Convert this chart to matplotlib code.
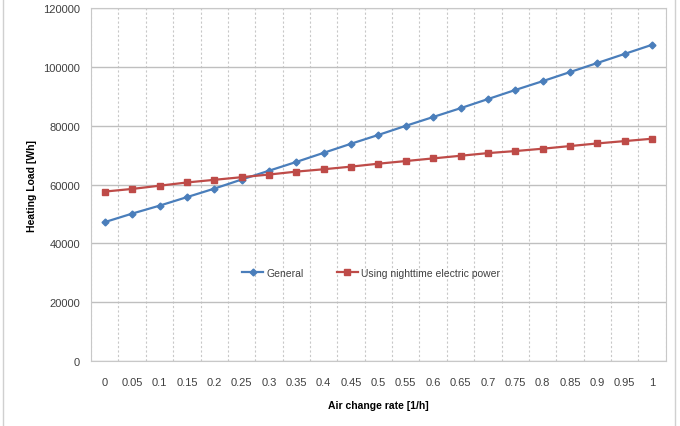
import numpy as np
import matplotlib.pyplot as plt
from matplotlib.patches import Rectangle

# Datos
rates = ["0", "0.05", "0.1", "0.15", "0.2", "0.25", "0.3", "0.35", "0.4", "0.45", "0.5",
         "0.55", "0.6", "0.65", "0.7", "0.75", "0.8", "0.85", "0.9", "0.95", "1"]
general = [47200, 50100, 52800, 55700, 58600, 61700, 64700, 67700, 70800, 73900, 76900,
           80000, 83000, 86000, 89100, 92200, 95200, 98300, 101400, 104500, 107600]
nighttime = [57600, 58500, 59600, 60700, 61600, 62500, 63400, 64400, 65200, 66100, 67100,
             68000, 68900, 69800, 70700, 71400, 72200, 73100, 74000, 74800, 75600]
y_ticks = [0, 20000, 40000, 60000, 80000, 100000, 120000]

plt.rcParams['font.family'] = ['Liberation Sans', 'DejaVu Sans']

fig = plt.figure(figsize=(6.8, 4.27), dpi=100)
ax = fig.add_axes([0.134, 0.153, 0.845, 0.825])

# borde del área del gráfico
fig.patches.append(Rectangle((0.004, -0.1), 0.988, 1.2, transform=fig.transFigure,
                             fill=False, edgecolor="#d0d0d0", linewidth=1.0))

x = np.arange(len(rates))
ax.plot(x, general, color="#4a7ebb", marker="D", markersize=3.5, linewidth=1.6,
        label="General")
ax.plot(x, nighttime, color="#be4b48", marker="s", markersize=5, linewidth=1.6,
        label="Using nighttime electric power")

ax.set_xlim(-0.5, len(rates) - 0.5)
ax.set_ylim(0, 120000)
ax.set_yticks(y_ticks)
ax.set_xticks(x)
ax.set_xticklabels(rates)
ax.set_xticks(np.arange(-0.5, len(rates), 1), minor=True)
ax.tick_params(axis="both", which="major", length=0, labelsize=8, colors="#404040", pad=8)
ax.tick_params(axis="x", which="minor", length=0)
ax.tick_params(axis="x", which="major", pad=12)

ax.grid(True, axis="y", color="#bfbfbf", linewidth=1.0)
ax.grid(True, axis="x", which="minor", color="#c8c8c8", linestyle=(0, (2, 2)), linewidth=0.8)
ax.set_axisbelow(True)
for s in ax.spines.values():
    s.set_color("#c8c8c8")

ax.set_xlabel("Air change rate [1/h]", fontsize=7.5, fontweight="bold", labelpad=9)
ax.set_ylabel("Heating Load [Wh]", fontsize=7.5, fontweight="bold", labelpad=4)

ax.legend(loc="center", bbox_to_anchor=(0.487, 0.25), ncol=2, frameon=False,
          fontsize=7.5, handlelength=2.0, handletextpad=0.3, columnspacing=3.2,
          labelcolor="#404040")

plt.savefig("out.png")
